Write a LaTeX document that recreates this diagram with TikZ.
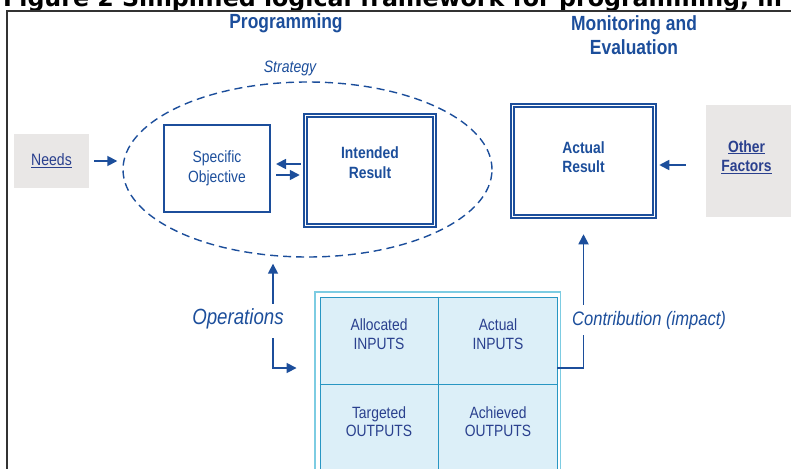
\documentclass[tikz,border=0pt]{standalone}
\usepackage{fontspec}
\setmainfont{Liberation Sans}[FakeStretch=0.85]
\newfontfamily\figfont{DejaVu Sans}
\usetikzlibrary{shapes.geometric, positioning, arrows.meta}

\definecolor{lfblue}{RGB}{28,78,155}
\definecolor{lftext}{RGB}{42,64,142}
\definecolor{lfgray}{RGB}{233,231,230}
\definecolor{lfcyan}{RGB}{125,204,226}
\definecolor{lfgrid}{RGB}{40,150,195}
\definecolor{lffill}{RGB}{220,239,248}

\tikzset{
  arr/.style={draw=lfblue, line width=1.7pt, -{Triangle[length=10pt,width=10pt]}},
  link/.style={draw=lfblue, line width=1.4pt},
  resbox/.style={draw=lfblue, double=white, line width=1.5pt,
    double distance=1.4pt, fill=white, inner sep=0pt},
  objbox/.style={draw=lfblue, line width=2pt, text=lfblue, align=center,
    font=\fontsize{16.3}{20}\selectfont},
  greybox/.style={fill=lfgray, inner sep=0pt},
  heading/.style={text=lfblue, align=center,
    font=\fontsize{20.5}{24}\selectfont\bfseries},
  boxtext/.style={text=lfblue, align=center,
    font=\fontsize{16.3}{19.5}\selectfont\bfseries},
  celltext/.style={text=lftext, align=center,
    font=\fontsize{16.3}{18.5}\selectfont},
  flowtext/.style={text=lfblue, font=\itshape}
}

\begin{document}
\begin{tikzpicture}[x=1pt, y=-1pt]
\useasboundingbox (0,0) rectangle (791,468);

% title (cut off by the page) and frame
\node[anchor=base west, inner sep=0pt, font=\figfont\bfseries\fontsize{23.7}{26}\selectfont]
    (figtitle) at (3,6.5) {Figure 2 Simplified logical framework for programming, m};
\draw[line width=1.3pt, black!80] (7,490) |- (810,11);

% headings
\node[heading] (prog) at (286,23.5) {Programming};
\node[heading] (monit) at (634,35.5) {Monitoring and\\Evaluation};

% strategy
\node[ellipse, draw=lfblue, line width=1.4pt, dash pattern=on 8pt off 5pt,
    minimum width=369pt, minimum height=175pt, inner sep=0pt]
    (strategy) at (307.5,169.5) {};
\node[flowtext, font=\fontsize{16.5}{18}\selectfont\itshape] (strat) at (290,68) {Strategy};

\node[greybox, minimum width=75pt, minimum height=54pt,
    label={[text=lftext, font=\fontsize{16.5}{18}\selectfont]center:\underline{Needs}}]
    (needs) at (51.5,161) {};
\node[objbox, minimum width=106pt, minimum height=87pt]
    (so) at (217,168.5) {Specific\\Objective};
\node[resbox, minimum width=129pt, minimum height=110pt,
    label={[boxtext, yshift=8pt]center:{Intended\\Result}}]
    (ir) at (370,170.5) {};

% results
\node[resbox, minimum width=142pt, minimum height=111pt,
    label={[boxtext, yshift=4pt]center:{Actual\\Result}}]
    (actual) at (583.5,161) {};
\node[greybox, minimum width=85pt, minimum height=112pt,
    label={[boxtext, text=lftext, xshift=-2pt, yshift=4pt]center:{\underline{Other}\\\underline{Factors}}}]
    (other) at (748.5,161) {};

% inputs / outputs
\node[fill=lffill, draw=lfgrid, line width=0.9pt, minimum width=237pt,
    minimum height=174pt, inner sep=0pt] (grid) at (438.5,384) {};
\draw[lfcyan, line width=1.8pt] ([shift={(-4.5,-4.5)}]grid.north west)
    rectangle ([shift={(3,4.5)}]grid.south east);
\draw[lfgrid, line width=0.9pt] (grid.north) -- (grid.south)
    (grid.west) -- (grid.east);
\node[celltext] (allocin) at (379,334) {Allocated\\INPUTS};
\node[celltext] (actin) at (498,334) {Actual\\INPUTS};
\node[celltext] (targout) at (379,421.5) {Targeted\\OUTPUTS};
\node[celltext] (achout) at (498,421.5) {Achieved\\OUTPUTS};

\node[flowtext, font=\fontsize{22}{24}\selectfont\itshape, minimum height=30pt]
    (ops) at (238,319) {Operations};
\node[flowtext, font=\fontsize{19.5}{21}\selectfont\itshape, minimum height=30pt,
    anchor=west, inner xsep=0pt] (contrib) at (572,320) {Contribution (impact)};
\coordinate (feed) at (0,368);

% connectors
\draw[arr, shorten <=5pt, shorten >=5pt] (needs.east) -- (needs.east -| strategy.west);
\draw[arr, shorten <=4pt, shorten >=5pt] ([yshift=6.5pt]ir.west) -- ([yshift=4.5pt]so.east);
\draw[arr, shorten <=5pt, shorten >=5pt] ([yshift=-6.5pt]so.east) -- ([yshift=-4.5pt]ir.west);
\draw[arr, shorten <=20pt, shorten >=4pt] ([yshift=-4pt]other.west) -- ([yshift=-4pt]actual.east);
\draw[arr, shorten >=6pt] ([xshift=35pt]ops.north) -- ([xshift=35pt]ops.north |- strategy.south);
\draw[arr, shorten <=4pt, shorten >=23pt] ([xshift=35pt]ops.south) |- (feed -| grid.west);
\draw[link] (feed -| grid.east) -| (contrib.south -| actual.south);
\draw[arr, shorten >=17pt] (contrib.north -| actual.south) -- (actual.south);
\end{tikzpicture}
\end{document}
